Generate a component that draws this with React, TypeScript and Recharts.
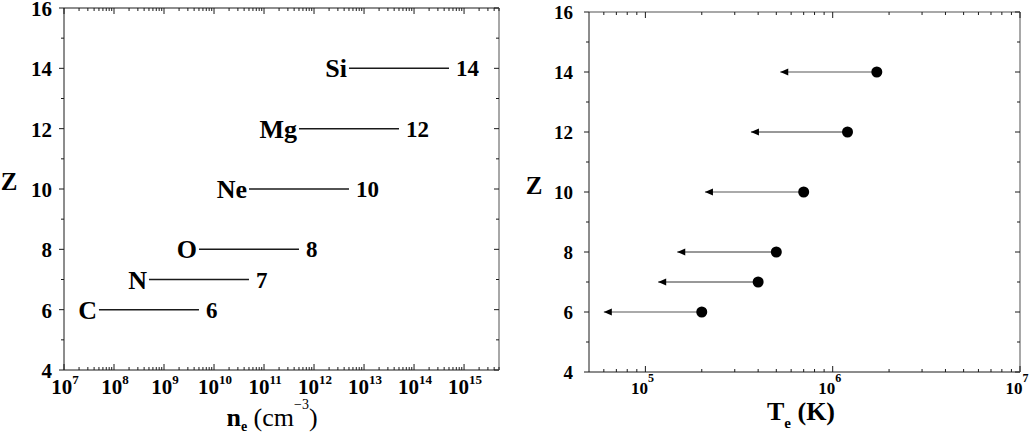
import { ScatterChart, Scatter, XAxis, YAxis } from "recharts";

// element lines (left panel): density range where each element is probed
const elements = ["C", "N", "O", "Ne", "Mg", "Si"];
const atomicNumbers = [6, 7, 8, 10, 12, 14];
const densityLow = [5e7, 5e8, 5e9, 5e10, 5e11, 5e12];
const densityHigh = [5e9, 5e10, 5e11, 5e12, 5e13, 5e14];

// right panel: peak temperature and upper-limit arrows
const tempPeak = [2.0e5, 4.0e5, 5.0e5, 7.0e5, 1.2e6, 1.72e6];
const tempLower = [6.0e4, 1.17e5, 1.48e5, 2.08e5, 3.66e5, 5.25e5];
const arrowColors = ["#aaaaaa", "#333333", "#333333", "#aaaaaa", "#333333", "#aaaaaa"];
const arrowWidths = [2, 1, 1, 2, 1, 2];

// ticks
const neExponents = [7, 8, 9, 10, 11, 12, 13, 14, 15];
const teExponents = [4, 5, 6, 7];
const minorSteps = [2, 3, 4, 5, 6, 7, 8, 9];
const zMajor = [4, 6, 8, 10, 12, 14, 16];
const zMinor = [5, 7, 9, 11, 13, 15];

const neDomain = [1e7, 5e15];
const teDomain = [5e4, 1e7];

const serif = "'Liberation Serif', 'Times New Roman', serif";
const ink = "#1a1a1a";
const frameGray = "#a8a8a8";

function logTicks(exps: number[], lo: number, hi: number) {
  const out: number[] = [];
  exps.forEach((e) => {
    const base = Math.pow(10, e);
    if (base >= lo && base <= hi) out.push(base);
    minorSteps.forEach((m) => {
      const v = m * base;
      if (v > lo && v <= hi) out.push(v);
    });
  });
  return out.sort((a, b) => a - b);
}

const neTicks = logTicks(neExponents, neDomain[0], neDomain[1]);
const teTicks = logTicks(teExponents, teDomain[0], teDomain[1]);
const zTicks = [...zMajor, ...zMinor].sort((a, b) => a - b);

const isDecade = (v: number) => {
  const l = Math.log10(v);
  return Math.abs(l - Math.round(l)) < 1e-6;
};

const makeBottomTick = (fontSize: number, supSize: number, supDy: number, dx: number, dy: number) =>
  (props: any) => {
    const { x, y, payload } = props;
    const major = isDecade(payload.value);
    return (
      <g>
        <line x1={x} x2={x} y1={y} y2={y - (major ? 6 : 3)} stroke={ink} />
        {major && (
          <text x={x + dx} y={y + dy} textAnchor="middle" fontFamily={serif} fontWeight="bold" fontSize={fontSize} fill="#000">
            10
            <tspan dy={supDy} fontSize={supSize}>{Math.round(Math.log10(payload.value))}</tspan>
          </text>
        )}
      </g>
    );
  };

const TopTick = (props: any) => {
  const { x, y, payload } = props;
  const major = isDecade(payload.value);
  return <line x1={x} x2={x} y1={y} y2={y + (major ? 6 : 3)} stroke={ink} />;
};

const makeLeftTick = (fontSize: number, gap: number) => (props: any) => {
  const { x, y, payload } = props;
  const major = zMajor.includes(payload.value);
  return (
    <g>
      <line x1={x} x2={x - (major ? 5 : 3)} y1={y} y2={y} stroke={ink} />
      {major && (
        <text x={x - gap} y={y} dy="0.38em" textAnchor="end" fontFamily={serif} fontWeight="bold" fontSize={fontSize} fill="#000">
          {payload.value}
        </text>
      )}
    </g>
  );
};

const RightTick = (props: any) => {
  const { x, y, payload } = props;
  const major = zMajor.includes(payload.value);
  return <line x1={x} x2={x - (major ? 5 : 3)} y1={y} y2={y} stroke={ink} />;
};

const ElementMark = (props: any) => {
  const { cx, cy, payload } = props;
  if (payload.role === "start") {
    return (
      <text x={cx - 2} y={cy + 9} textAnchor="end" fontFamily={serif} fontWeight="bold" fontSize={26} fill="#000">
        {payload.name}
      </text>
    );
  }
  return (
    <text x={cx + 7} y={cy + 8} textAnchor="start" fontFamily={serif} fontWeight="bold" fontSize={23} fill="#000">
      {payload.z}
    </text>
  );
};

const ArrowMark = (props: any) => {
  const { cx, cy, payload } = props;
  if (payload.role === "peak") return <circle cx={cx} cy={cy} r={5.5} fill="#000" />;
  return <polygon points={`${cx},${cy} ${cx + 8},${cy - 3.5} ${cx + 8},${cy + 3.5}`} fill="#000" />;
};

const elementSeries = elements.map((name, i) => [
  { x: densityLow[i], z: atomicNumbers[i], name, role: "start" },
  { x: densityHigh[i], z: atomicNumbers[i], name, role: "end" },
]);

const tempSeries = atomicNumbers.map((z, i) => [
  { x: tempPeak[i], z, role: "peak" },
  { x: tempLower[i], z, role: "limit" },
]);

const axisCommon = { tickSize: 0, tickMargin: 0, tickLine: false, interval: 0 as const, allowDataOverflow: true };

export default function App() {
  return (
    <div style={{ position: "absolute", left: 0, top: 0, width: 1032, height: 433, background: "#fff" }}>
      <div style={{ position: "absolute", left: 0, top: 0 }}>
        <ScatterChart width={520} height={433} margin={{ top: 3, right: 16, bottom: 33, left: 24 }}>
          <XAxis
            {...axisCommon} dataKey="x" type="number" scale="log" domain={neDomain}
            ticks={neTicks} height={30} axisLine={{ stroke: ink }} tick={makeBottomTick(21, 13, -10, 1, 24)}
          />
          <XAxis
            {...axisCommon} xAxisId="top" orientation="top" dataKey="x" type="number" scale="log" domain={neDomain}
            ticks={neTicks} height={5} axisLine={{ stroke: ink }} tick={TopTick}
          />
          <YAxis
            {...axisCommon} dataKey="z" type="number" domain={[4, 16]} ticks={zTicks}
            width={40} axisLine={{ stroke: ink }} tick={makeLeftTick(21, 12)}
          />
          <YAxis
            {...axisCommon} yAxisId="right" orientation="right" dataKey="z" type="number" domain={[4, 16]}
            ticks={zTicks} width={5} axisLine={{ stroke: frameGray, strokeWidth: 2 }} tick={RightTick}
          />
          {elementSeries.map((data, i) => (
            <Scatter
              key={elements[i]} data={data} line={{ stroke: ink, strokeWidth: 1.5 }} lineType="joint"
              shape={ElementMark} isAnimationActive={false}
            />
          ))}
        </ScatterChart>
      </div>

      <div style={{ position: "absolute", left: 520, top: 0 }}>
        <ScatterChart width={512} height={433} margin={{ top: 7, right: 7, bottom: 31, left: 29 }}>
          <XAxis
            {...axisCommon} dataKey="x" type="number" scale="log" domain={teDomain}
            ticks={teTicks} height={30} axisLine={{ stroke: ink }} tick={makeBottomTick(17, 12, -12, -3, 22)}
          />
          <XAxis
            {...axisCommon} xAxisId="top" orientation="top" dataKey="x" type="number" scale="log" domain={teDomain}
            ticks={teTicks} height={5} axisLine={{ stroke: frameGray, strokeWidth: 2 }} tick={TopTick}
          />
          <YAxis
            {...axisCommon} dataKey="z" type="number" domain={[4, 16]} ticks={zTicks}
            width={40} axisLine={{ stroke: ink }} tick={makeLeftTick(19, 16)}
          />
          <YAxis
            {...axisCommon} yAxisId="right" orientation="right" dataKey="z" type="number" domain={[4, 16]}
            ticks={zTicks} width={5} axisLine={{ stroke: frameGray, strokeWidth: 2 }} tick={RightTick}
          />
          {tempSeries.map((data, i) => (
            <Scatter
              key={atomicNumbers[i]} data={data} line={{ stroke: arrowColors[i], strokeWidth: arrowWidths[i] }}
              lineType="joint" shape={ArrowMark} isAnimationActive={false}
            />
          ))}
        </ScatterChart>
      </div>

      <svg width={1032} height={433} style={{ position: "absolute", left: 0, top: 0, pointerEvents: "none" }}>
        <g fontFamily={serif} fill="#000">
          <text x={9} y={190} textAnchor="middle" fontWeight="bold" fontSize={25}>Z</text>
          <text x={534} y={194} textAnchor="middle" fontWeight="bold" fontSize={25}>Z</text>
          <text x={272} y={426} textAnchor="middle" fontSize={26}>
            <tspan fontWeight="bold">n</tspan>
            <tspan fontWeight="bold" fontSize={14} dy={5}>e</tspan>
            <tspan dy={-5}> (cm</tspan>
            <tspan fontSize={14} dy={-17}>−3</tspan>
            <tspan dy={17}>)</tspan>
          </text>
          <text x={801} y={420} textAnchor="middle" fontWeight="bold" fontSize={26}>
            <tspan>T</tspan>
            <tspan fontSize={15} dy={8}>e</tspan>
            <tspan dy={-8}> (K)</tspan>
          </text>
        </g>
      </svg>
    </div>
  );
}
